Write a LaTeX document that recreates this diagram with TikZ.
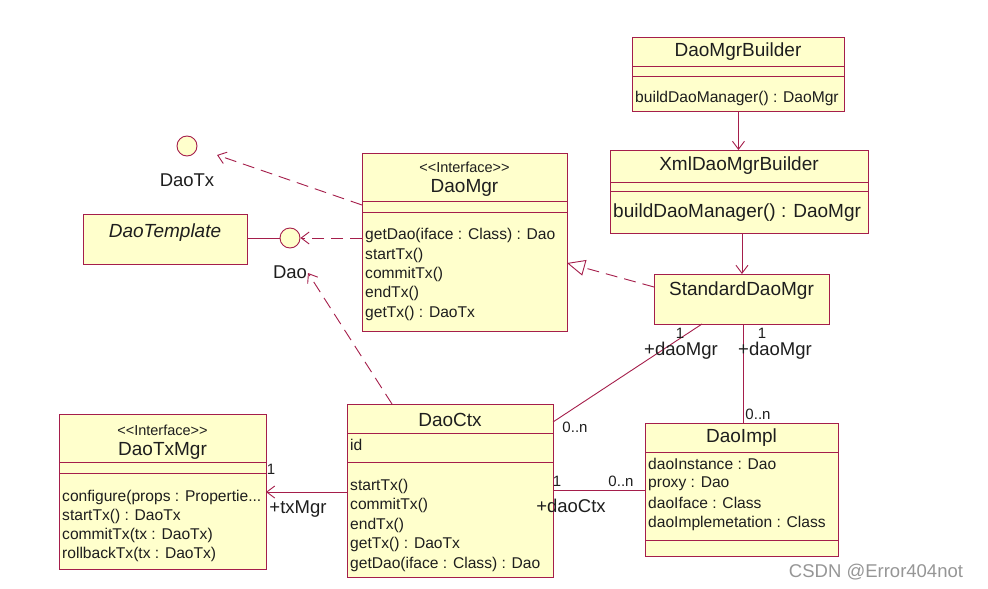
\documentclass[tikz,border=0pt]{standalone}
\usepackage{fontspec}
\setmainfont{Liberation Sans}
\usetikzlibrary{arrows.meta}
\definecolor{umlred}{RGB}{165,30,75}
\definecolor{umlfill}{RGB}{255,255,204}
\definecolor{txt}{RGB}{30,30,30}
\definecolor{wm}{RGB}{150,150,150}
\tikzset{
  cls/.style={draw=umlred, fill=umlfill, line width=0.9pt, rectangle, inner sep=0pt, anchor=north west},
  sep/.style={draw=umlred, line width=0.9pt},
  big/.style={font=\fontsize{19}{22}\selectfont, text=txt, inner sep=0pt},
  small/.style={font=\fontsize{15.6}{18}\selectfont, text=txt, inner sep=0pt},
  stereo/.style={font=\fontsize{14.5}{16}\selectfont, text=txt, inner sep=0pt},
  mem/.style={small, anchor=west},
  bigmem/.style={big, anchor=west},
  lbl/.style={font=\fontsize{18.5}{20}\selectfont, text=txt, inner sep=0pt},
  mult/.style={font=\fontsize{15}{17}\selectfont, text=txt, inner sep=0pt},
  assoc/.style={draw=umlred, line width=0.9pt},
  dep/.style={draw=umlred, line width=0.9pt, dash pattern=on 12pt off 7pt},
  barb/.style={-{Straight Barb[length=8pt,width=12pt]}},
  realize/.style={-{Triangle[open,length=18pt,width=16pt]}},
  iface/.style={circle, draw=umlred, fill=umlfill, line width=0.9pt, minimum size=20pt, inner sep=0pt}
}
\begin{document}
\begin{tikzpicture}[x=1pt,y=-1pt]
\useasboundingbox[fill=white] (0,0) rectangle (988,589);

% DaoMgrBuilder
\node[cls, minimum width=212pt, minimum height=74pt] (builder) at (632,37) {};
\draw[sep] (632,66) -- (844,66);
\draw[sep] (632,76) -- (844,76);
\node[big] (builderN) at (738,52) {DaoMgrBuilder};
\node[mem] (builderM) at (635,98) {buildDaoManager() : DaoMgr};

% XmlDaoMgrBuilder
\node[cls, minimum width=258pt, minimum height=83pt] (xml) at (610,150) {};
\draw[sep] (610,182) -- (868,182);
\draw[sep] (610,191) -- (868,191);
\node[big] (xmlN) at (739,166) {XmlDaoMgrBuilder};
\node[bigmem] (xmlM) at (613,213) {buildDaoManager() : DaoMgr};

% StandardDaoMgr
\node[cls, minimum width=175pt, minimum height=50pt] (std) at (654,274) {};
\node[big] (stdN) at (741.5,291) {StandardDaoMgr};

% DaoMgr
\node[cls, minimum width=205pt, minimum height=178pt] (daomgr) at (362,153) {};
\draw[sep] (362,201) -- (567,201);
\draw[sep] (362,212) -- (567,212);
\node[stereo] (daomgrS) at (464.5,167) {{<}{<}Interface{>}{>}};
\node[big] (daomgrN) at (464.5,188) {DaoMgr};
\node[mem] (dm1) at (365,235) {getDao(iface : Class) : Dao};
\node[mem] (dm2) at (365,255) {startTx()};
\node[mem] (dm3) at (365,274) {commitTx()};
\node[mem] (dm4) at (365,293) {endTx()};
\node[mem] (dm5) at (365,313) {getTx() : DaoTx};

% DaoTemplate
\node[cls, minimum width=164pt, minimum height=50pt] (tmpl) at (83,214) {};
\node[big, font=\fontsize{19}{22}\selectfont\itshape] (tmplN) at (165,233) {DaoTemplate};

% interfaces (lollipops)
\node[iface] (daotx) at (187,146) {};
\node[lbl] (daotxL) at (187,180) {DaoTx};
\node[iface] (dao) at (290,238) {};
\node[lbl] (daoL) at (290,272) {Dao};

% DaoTxMgr
\node[cls, minimum width=207pt, minimum height=155pt] (txmgr) at (59,414) {};
\draw[sep] (59,462) -- (266,462);
\draw[sep] (59,473) -- (266,473);
\node[stereo] (txmgrS) at (162.5,430) {{<}{<}Interface{>}{>}};
\node[big] (txmgrN) at (162.5,451) {DaoTxMgr};
\node[mem] (tm1) at (62,497) {configure(props : Propertie...};
\node[mem] (tm2) at (62,516) {startTx() : DaoTx};
\node[mem] (tm3) at (62,535) {commitTx(tx : DaoTx)};
\node[mem] (tm4) at (62,554) {rollbackTx(tx : DaoTx)};

% DaoCtx
\node[cls, minimum width=206pt, minimum height=173pt] (ctx) at (347,404) {};
\draw[sep] (347,433) -- (553,433);
\draw[sep] (347,462) -- (553,462);
\node[big] (ctxN) at (450,420) {DaoCtx};
\node[mem] (ctxA) at (350,445) {id};
\node[mem] (c1) at (350,486) {startTx()};
\node[mem] (c2) at (350,505) {commitTx()};
\node[mem] (c3) at (350,525) {endTx()};
\node[mem] (c4) at (350,544) {getTx() : DaoTx};
\node[mem] (c5) at (350,564) {getDao(iface : Class) : Dao};

% DaoImpl
\node[cls, minimum width=193pt, minimum height=133pt] (impl) at (645,423) {};
\draw[sep] (645,452) -- (838,452);
\draw[sep] (645,540) -- (838,540);
\node[big] (implN) at (741.5,438) {DaoImpl};
\node[mem] (i1) at (648,464) {daoInstance : Dao};
\node[mem] (i2) at (648,484) {proxy : Dao};
\node[mem] (i3) at (648,503) {daoIface : Class};
\node[mem] (i4) at (648,523) {daoImplemetation : Class};

% connector end coordinates
\coordinate (dmTxPt) at (362,205);
\coordinate (dmDaoPt) at (362,238);
\coordinate (stdReal) at (654,287);
\coordinate (dmReal) at (567,263);
\coordinate (ctxTop) at (392,404);
\coordinate (daoTip) at (308,273);
\coordinate (daotxTip) at (217,155);
\coordinate (stdA) at (702,324);
\coordinate (ctxA2) at (553,422);
\coordinate (stdB) at (743,324);
\coordinate (implB) at (743,423);
\coordinate (ctxR) at (553,490);
\coordinate (implL) at (645,490);
\coordinate (ctxL) at (347,492);
\coordinate (txR) at (266,492);

% connectors
\draw[assoc, barb] (builder.south) -- (builder.south |- xml.north);
\draw[assoc, barb] (std.north |- xml.south) -- (std.north);
\draw[dep, realize] (stdReal) -- (dmReal);
\draw[dep, barb] (dmTxPt) -- (daotxTip);
\draw[dep, barb] (dmDaoPt) -- (dao.east);
\draw[assoc] (tmpl.east |- dao.west) -- (dao.west);
\draw[dep, barb] (ctxTop) -- (daoTip);
\draw[assoc] (stdA) -- (ctxA2);
\draw[assoc] (stdB) -- (implB);
\draw[assoc] (ctxR) -- (implL);
\draw[assoc, barb] (ctxL) -- (txR);

% multiplicities and roles
\node[mult] (m1) at (680,333) {1};
\node[lbl] (r1) at (681,351) {+daoMgr};
\node[mult] (m2) at (575,427) {0..n};
\node[mult] (m3) at (762,333) {1};
\node[lbl] (r2) at (775,351) {+daoMgr};
\node[mult] (m4) at (758,414) {0..n};
\node[mult] (m5) at (557,481) {1};
\node[mult] (m6) at (621,481) {0..n};
\node[lbl] (r3) at (571,506) {+daoCtx};
\node[mult] (m7) at (271,469) {1};
\node[lbl] (r4) at (298,509) {+txMgr};

% watermark
\node[font=\fontsize{18.5}{20}\selectfont, text=wm, inner sep=0pt] (wmk) at (876,572) {CSDN @Error404not};
\end{tikzpicture}
\end{document}
